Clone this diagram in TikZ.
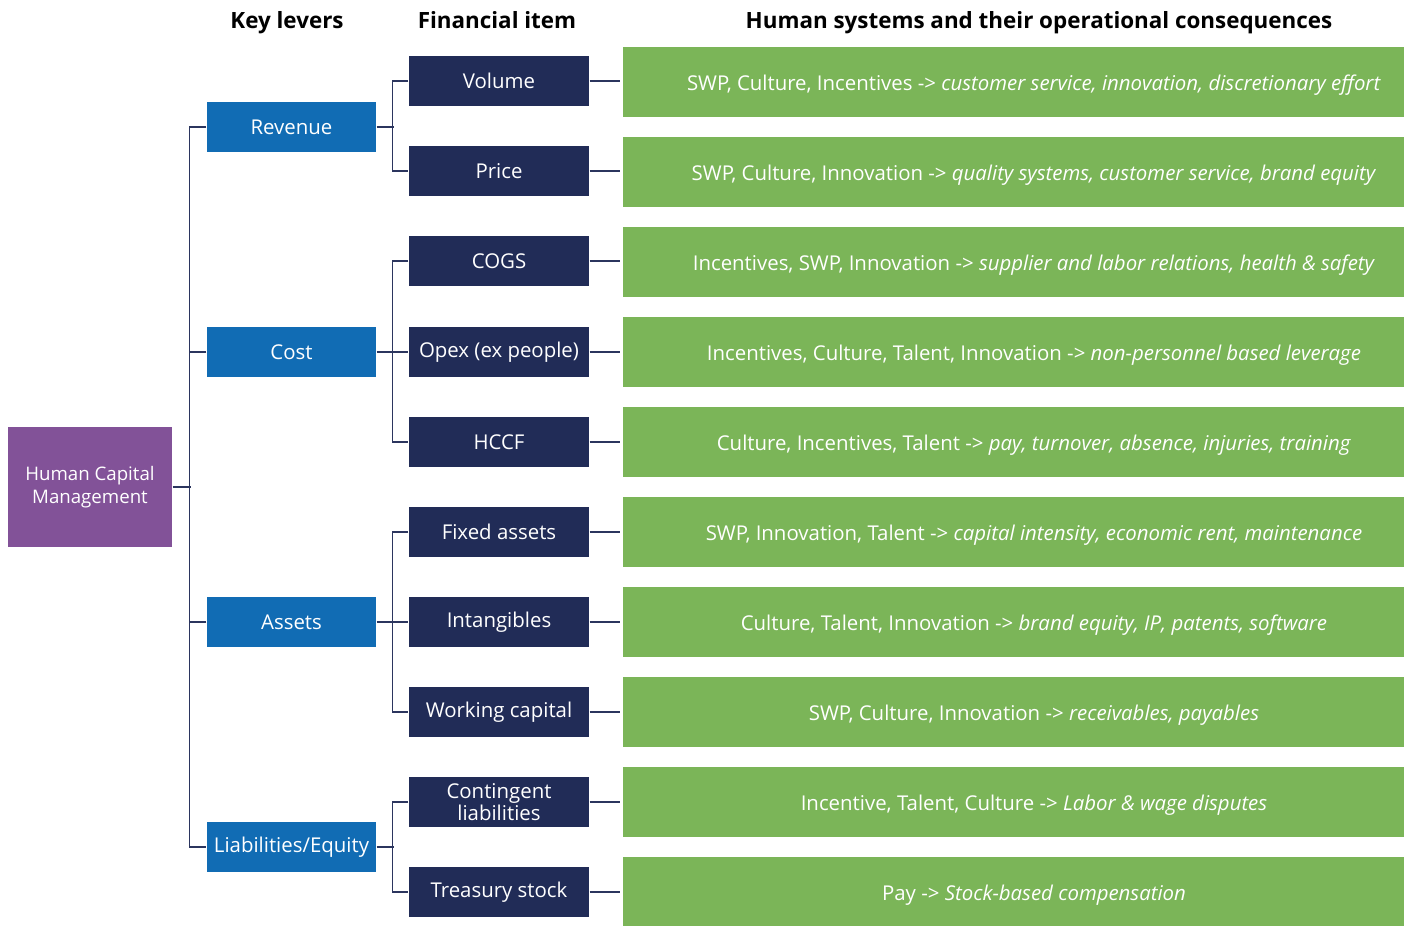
\documentclass[tikz,border=0pt]{standalone}
\usepackage{fontspec}
\setmainfont{Open Sans}
\usetikzlibrary{positioning}

\begin{document}
\begin{tikzpicture}[x=0.75pt, y=-0.75pt, line width=1.1pt,
	box/.style={rectangle, inner sep=0pt, text=white, align=center, font=\fontsize{15.3}{16.5}\selectfont},
	root/.style={box, fill=purple, minimum width=164*0.75pt, minimum height=120*0.75pt, font=\fontsize{14}{17}\selectfont},
	lever/.style={box, fill=blue, minimum width=169*0.75pt, minimum height=50*0.75pt},
	item/.style={box, fill=navy, minimum width=180*0.75pt, minimum height=50*0.75pt},
	conseq/.style={rectangle, inner sep=0pt, fill=green, minimum width=781*0.75pt, minimum height=70*0.75pt},
	ctext/.style={text=white, inner sep=0pt, anchor=base, font=\fontsize{15.3}{16.5}\selectfont},
	head/.style={inner sep=0pt, anchor=base, font=\fontsize{16.8}{18}\selectfont\bfseries},
	link/.style={draw=linec}]
	\definecolor{purple}{RGB}{130, 82, 152};
\definecolor{blue}{RGB}{17, 108, 180};
\definecolor{navy}{RGB}{33, 44, 87};
\definecolor{green}{RGB}{123, 181, 88};
\definecolor{linec}{RGB}{43, 53, 94};

% \conseq#name#y#text
\def\conseq#1#2#3{
	\node[conseq] (#1) at (1013.5, #2) {};
	\node[ctext] (#1t) at (1034, #2 + 8) {#3};
}

	\useasboundingbox (0, 0) rectangle (1410, 925);
	
	% headers
	\node[head] (h1) at (287, 28) {Key levers};
	\node[head] (h2) at (497, 28) {Financial item};
	\node[head] (h3) at (1039, 28) {Human systems and their operational consequences};
	
	% root
	\node[root] (hcm) at (90, 487) {Human Capital\\Management};
	
	% key levers
	\node[lever] (rev) at (291.5, 127) {Revenue};
	\node[lever] (cost) at (291.5, 352) {Cost};
	\node[lever] (assets) at (291.5, 622) {Assets};
	\node[lever] (liab) at (291.5, 847) {Liabilities/Equity};
	
	% financial items
	\node[item] (vol) at (499, 81) {Volume};
	\node[item] (price) at (499, 171) {Price};
	\node[item] (cogs) at (499, 261) {COGS};
	\node[item] (opex) at (499, 352) {Opex (ex people)};
	\node[item] (hccf) at (499, 442) {HCCF};
	\node[item] (fixed) at (499, 532) {Fixed assets};
	\node[item] (intang) at (499, 622) {Intangibles};
	\node[item] (wc) at (499, 712) {Working capital};
	\node[item] (cont) at (499, 802) {Contingent\\liabilities};
	\node[item] (treas) at (499, 892) {Treasury stock};
	
	% consequences
	\conseq{c1}{82}{SWP, Culture, Incentives -> \textit{customer service, innovation, discretionary effort}}
	\conseq{c2}{172}{SWP, Culture, Innovation -> \textit{quality systems, customer service, brand equity}}
	\conseq{c3}{262}{Incentives, SWP, Innovation -> \textit{supplier and labor relations, health \& safety}}
	\conseq{c4}{352}{Incentives, Culture, Talent, Innovation -> \textit{non-personnel based leverage}}
	\conseq{c5}{442}{Culture, Incentives, Talent -> \textit{pay, turnover, absence, injuries, training}}
	\conseq{c6}{532}{SWP, Innovation, Talent -> \textit{capital intensity, economic rent, maintenance}}
	\conseq{c7}{622}{Culture, Talent, Innovation -> \textit{brand equity, IP, patents, software}}
	\conseq{c8}{712}{SWP, Culture, Innovation -> \textit{receivables, payables}}
	\conseq{c9}{802}{Incentive, Talent, Culture -> \textit{Labor \& wage disputes}}
	\conseq{c10}{892}{Pay -> \textit{Stock-based compensation}}
	
	% root to levers
	\draw[link] (hcm.east) -- ++(18, 0);
	\draw[link] (rev.west) -- ++(-17, 0) |- (liab.west);
	\draw[link] (cost.west) -- ++(-17, 0);
	\draw[link] (assets.west) -- ++(-17, 0);
	
	% levers to items
	\draw[link] (rev.east) -- ++(17, 0);
	\draw[link] (vol.west) -- ++(-16, 0) |- (price.west);
	\draw[link] (cost.east) -- (opex.west);
	\draw[link] (cogs.west) -- ++(-16, 0) |- (hccf.west);
	\draw[link] (assets.east) -- (intang.west);
	\draw[link] (fixed.west) -- ++(-16, 0) |- (wc.west);
	\draw[link] (liab.east) -- ++(17, 0);
	\draw[link] (cont.west) -- ++(-16, 0) |- (treas.west);
	
	% items to consequences
	\foreach \a/\b in {vol/c1, price/c2, cogs/c3, opex/c4, hccf/c5, fixed/c6, intang/c7, wc/c8, cont/c9, treas/c10}
		\draw[link, shorten >=2] (\a.east) -- (\a.east -| \b.west);
\end{tikzpicture}
\end{document}
